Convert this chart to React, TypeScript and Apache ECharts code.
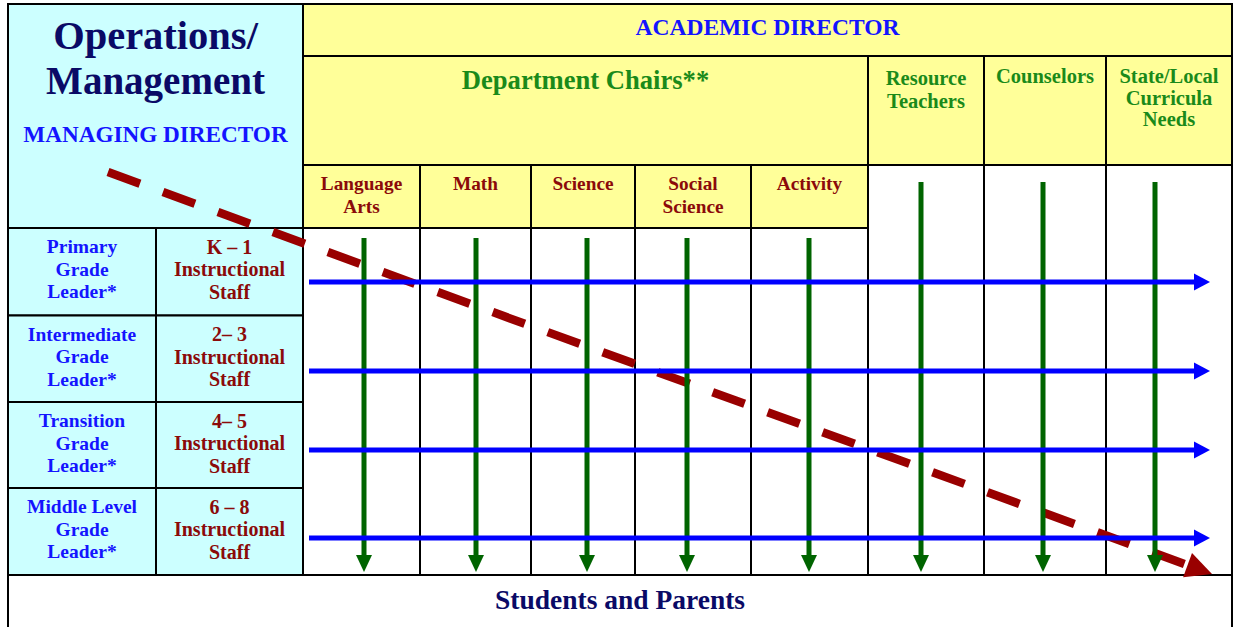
import React, { useEffect, useRef } from "react";
import * as echarts from "echarts";

// ---- content ----
const academicTitle = "ACADEMIC DIRECTOR";
const opsTitle = ["Operations/", "Management"];
const opsSubtitle = "MANAGING DIRECTOR";
const deptTitle = "Department Chairs**";
const subjects = [["Language", "Arts"], ["Math"], ["Science"], ["Social", "Science"], ["Activity"]];
const supportStaff = [["Resource", "Teachers"], ["Counselors"], ["State/Local", "Curricula", "Needs"]];
const gradeLeaders = [
  ["Primary", "Grade", "Leader*"],
  ["Intermediate", "Grade", "Leader*"],
  ["Transition", "Grade", "Leader*"],
  ["Middle Level", "Grade", "Leader*"],
];
const gradeStaff = [
  ["K – 1", "Instructional", "Staff"],
  ["2– 3", "Instructional", "Staff"],
  ["4– 5", "Instructional", "Staff"],
  ["6 – 8", "Instructional", "Staff"],
];
const footer = "Students and Parents";

// ---- layout ----
const L = 8, R = 1232, T = 4;
const SPLIT_X = 156, GRID_X = 303;
const Y_ACAD = 56, Y_DEPT = 165, Y_SUBJ = 228, Y_BOTTOM = 575, Y_END = 660;
const COL_X = [303, 420, 531, 635, 751, 868, 984, 1106, 1232];
const ROW_Y = [228, 315.5, 402, 488, 575];
const SUBJ_ARROW_X = [364, 476, 587, 687, 809];
const SUPPORT_ARROW_X = [921, 1043, 1155];
const BLUE_Y = [282, 371, 450, 538];
const SUPPORT_TEXT_Y = [77.5, 76, 76];
const SUPPORT_LINE_GAP = [23.5, 22, 21.5];

const CYAN = "#ccffff", YELLOW = "#ffff99";
const NAVY = "#0a0a66", BLUE = "#1414ff", GREEN_T = "#1a8a1a", DRED = "#8b0a0a";
const GREEN_A = "#006400", BLUE_A = "#0000ff", RED_A = "#990000";
const FONT = "'Liberation Serif', 'Times New Roman', serif";

function txt(text: string, x: number, y: number, size: number, color: string) {
  return {
    type: "text",
    x,
    y,
    z: 10,
    style: {
      text,
      fill: color,
      fontSize: size,
      fontFamily: FONT,
      fontWeight: "bold",
      align: "center",
      verticalAlign: "middle",
      textAlign: "center",
      textVerticalAlign: "middle",
    },
  };
}

function cell(x1: number, y1: number, x2: number, y2: number, fill: string) {
  return {
    type: "rect",
    z: 0,
    shape: { x: x1, y: y1, width: x2 - x1, height: y2 - y1 },
    style: { fill, stroke: "#000", lineWidth: 2 },
  };
}

function buildElements() {
  const els: any[] = [];
  // cells
  els.push(cell(L, T, GRID_X, Y_SUBJ, CYAN));
  els.push(cell(GRID_X, T, R, Y_ACAD, YELLOW));
  els.push(cell(GRID_X, Y_ACAD, COL_X[5], Y_DEPT, YELLOW));
  for (let i = 5; i < 8; i++) els.push(cell(COL_X[i], Y_ACAD, COL_X[i + 1], Y_DEPT, YELLOW));
  for (let i = 0; i < 5; i++) els.push(cell(COL_X[i], Y_DEPT, COL_X[i + 1], Y_SUBJ, YELLOW));
  for (let i = 0; i < 5; i++) els.push(cell(COL_X[i], Y_SUBJ, COL_X[i + 1], Y_BOTTOM, "#ffffff"));
  for (let i = 5; i < 8; i++) els.push(cell(COL_X[i], Y_DEPT, COL_X[i + 1], Y_BOTTOM, "#ffffff"));
  for (let r = 0; r < 4; r++) {
    els.push(cell(L, ROW_Y[r], SPLIT_X, ROW_Y[r + 1], CYAN));
    els.push(cell(SPLIT_X, ROW_Y[r], GRID_X, ROW_Y[r + 1], CYAN));
  }
  els.push(cell(L, Y_BOTTOM, R, Y_END, "#ffffff"));

  // red dashed diagonal arrow
  const sx = 108, sy = 172, tx = 1212, ty = 574;
  const len = Math.hypot(tx - sx, ty - sy);
  const ux = (tx - sx) / len, uy = (ty - sy) / len;
  const headL = 26, headW = 13;
  const bx = tx - ux * headL, by = ty - uy * headL;
  els.push({
    type: "line",
    z: 3,
    shape: { x1: sx, y1: sy, x2: bx, y2: by },
    style: { stroke: RED_A, lineWidth: 8.5, lineDash: [34, 24.5], lineCap: "butt" },
  });
  els.push({
    type: "polygon",
    z: 3,
    shape: {
      points: [
        [tx, ty],
        [bx - uy * headW, by + ux * headW],
        [bx + uy * headW, by - ux * headW],
      ],
    },
    style: { fill: RED_A },
  });

  // green vertical arrows
  const greenArrow = (x: number, top: number) => {
    const tip = 572, head = 17, hw = 8;
    els.push({ type: "line", z: 4, shape: { x1: x, y1: top, x2: x, y2: tip - head + 1 }, style: { stroke: GREEN_A, lineWidth: 5 } });
    els.push({ type: "polygon", z: 4, shape: { points: [[x - hw, tip - head], [x + hw, tip - head], [x, tip]] }, style: { fill: GREEN_A } });
  };
  SUBJ_ARROW_X.forEach((x) => greenArrow(x, 238));
  SUPPORT_ARROW_X.forEach((x) => greenArrow(x, 182));

  // blue horizontal arrows
  BLUE_Y.forEach((y) => {
    const tip = 1210, head = 16, hw = 8.5;
    els.push({ type: "line", z: 5, shape: { x1: 309, y1: y, x2: tip - head + 1, y2: y }, style: { stroke: BLUE_A, lineWidth: 5 } });
    els.push({ type: "polygon", z: 5, shape: { points: [[tip - head, y - hw], [tip - head, y + hw], [tip, y]] }, style: { fill: BLUE_A } });
  });

  // texts
  const opsCx = (L + GRID_X) / 2;
  els.push(txt(opsTitle[0], opsCx, 35, 40.5, NAVY));
  els.push(txt(opsTitle[1], opsCx, 80, 39, NAVY));
  els.push(txt(opsSubtitle, opsCx, 134, 23.2, BLUE));
  els.push(txt(academicTitle, (GRID_X + R) / 2, 27, 23.5, BLUE));
  els.push(txt(deptTitle, (GRID_X + COL_X[5]) / 2, 80, 26.6, GREEN_T));

  supportStaff.forEach((lines, i) => {
    const cx = (COL_X[5 + i] + COL_X[6 + i]) / 2;
    lines.forEach((s, k) => els.push(txt(s, cx, SUPPORT_TEXT_Y[i] + k * SUPPORT_LINE_GAP[i], 20.5, GREEN_T)));
  });
  subjects.forEach((lines, i) => {
    const cx = (COL_X[i] + COL_X[i + 1]) / 2;
    lines.forEach((s, k) => els.push(txt(s, cx, 183.5 + k * 23, 19.3, DRED)));
  });
  gradeLeaders.forEach((lines, r) => {
    const cx = (L + SPLIT_X) / 2;
    lines.forEach((s, k) => els.push(txt(s, cx, ROW_Y[r] + 18.5 + k * 22.5, 19.5, BLUE)));
  });
  gradeStaff.forEach((lines, r) => {
    const cx = (SPLIT_X + GRID_X) / 2;
    lines.forEach((s, k) => els.push(txt(s, cx, ROW_Y[r] + 18.5 + k * 22.5, 20, DRED)));
  });
  els.push(txt(footer, (L + R) / 2, 599, 27.5, NAVY));
  return els;
}

export default function App() {
  const ref = useRef<HTMLDivElement>(null);
  useEffect(() => {
    document.body.style.margin = "0";
    if (!ref.current) return;
    const chart = echarts.init(ref.current, undefined, { renderer: "svg" });
    chart.setOption({
      animation: false,
      backgroundColor: "#ffffff",
      graphic: { elements: buildElements() },
    });
    return () => chart.dispose();
  }, []);
  return <div ref={ref} style={{ width: 1235, height: 627 }} />;
}
